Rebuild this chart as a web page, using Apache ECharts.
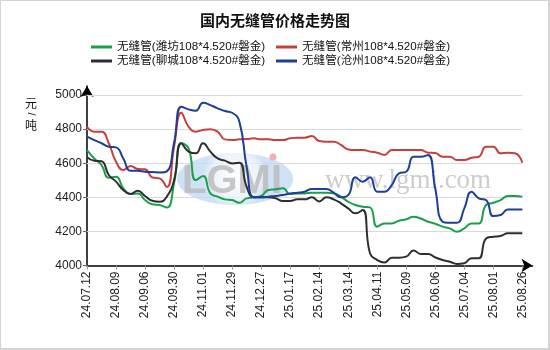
<!DOCTYPE html>
<html>
<head>
<meta charset="utf-8">
<script src="https://cdn.jsdelivr.net/npm/echarts@6/dist/echarts.min.js"></script>
<style>
  html, body { margin: 0; padding: 0; background: #fff; }
  #wrap { position: relative; width: 550px; height: 350px; }
  #chart { position: absolute; left: 0; top: 0; width: 550px; height: 350px; }
  #frame { position: absolute; left: 0; top: 0; width: 550px; height: 350px; box-sizing: border-box;
           border: 1px solid #d4d4d4; border-right-width: 2px; border-bottom-width: 2px; pointer-events: none; }
</style>
</head>
<body>
<div id="wrap"><div id="chart"></div><div id="frame"></div></div>
<script>
// Dates printed under the x axis; prices are sampled STEP times between two printed dates
const tickLabels = ['24.07.12','24.08.09','24.09.06','24.09.30','24.11.01','24.11.29','24.12.27','25.01.17',
                    '25.02.14','25.03.14','25.04.11','25.05.09','25.06.06','25.07.04','25.08.01','25.08.26'];
const STEP = 4;

const seriesNames = ['无缝管(潍坊108*4.520#磐金)', '无缝管(常州108*4.520#磐金)',
                     '无缝管(聊城108*4.520#磐金)', '无缝管(沧州108*4.520#磐金)'];

// 元/吨
const weifang = [4677,4628,4589,4515,4520,4453,4419,4423,4384,4359,4355,4340,4482,4717,4687,4501,
                 4525,4423,4404,4388,4384,4368,4394,4400,4408,4443,4447,4453,4419,4423,4423,4427,
                 4427,4427,4423,4404,4374,4355,4345,4341,4228,4247,4247,4263,4271,4286,4276,4257,
                 4245,4228,4218,4198,4218,4247,4247,4355,4368,4384,4408,4408,4404];
const changzhou = [4814,4785,4785,4717,4609,4560,4584,4566,4564,4517,4511,4460,4697,4896,4814,4785,
                   4795,4799,4785,4740,4736,4740,4742,4746,4740,4740,4736,4736,4746,4750,4750,4760,
                   4730,4726,4726,4707,4681,4678,4678,4668,4662,4648,4678,4678,4678,4678,4678,4662,
                   4660,4638,4638,4619,4619,4632,4638,4697,4697,4658,4662,4658,4603];
const liaocheng = [4635,4615,4612,4531,4492,4443,4419,4439,4408,4380,4374,4404,4501,4717,4668,4658,
                   4717,4668,4628,4615,4599,4603,4462,4400,4400,4400,4394,4378,4378,4388,4388,4400,
                   4376,4400,4388,4365,4335,4306,4326,4072,4032,4017,4046,4046,4052,4088,4068,4068,
                   4048,4032,4022,4009,4013,4043,4043,4159,4169,4173,4189,4189,4189];
const cangzhou = [4756,4736,4717,4697,4693,4628,4556,4556,4550,4548,4546,4552,4720,4932,4916,4908,
                  4955,4941,4922,4906,4896,4844,4580,4400,4400,4404,4408,4413,4423,4427,4433,4449,
                  4449,4449,4427,4400,4413,4517,4492,4517,4433,4433,4472,4541,4550,4638,4638,4648,
                  4450,4257,4251,4251,4335,4433,4394,4384,4290,4296,4329,4329,4329];

const yTicks = [4000, 4200, 4400, 4600, 4800, 5000];

const colors = ['#1c9f4c', '#c83e3c', '#2e2e2e', '#1d3f98'];
const values = [weifang, changzhou, liaocheng, cangzhou];

const FONT = '"Liberation Sans", "Noto Sans CJK SC", sans-serif';
const lastIdx = (tickLabels.length - 1) * STEP;
const tickPos = tickLabels.map((_, k) => k * STEP);

const chart = echarts.init(document.getElementById('chart'), null, { renderer: 'canvas' });

const lineSeries = seriesNames.map((name, s) => ({
  name: name,
  type: 'line',
  smooth: true,
  showSymbol: false,
  symbol: 'none',
  z: 3,
  color: colors[s],
  lineStyle: { width: 2, color: colors[s] },
  data: values[s].map((v, i) => [i, v])
}));

// horizontal guide lines run only across the dated span
lineSeries[0].markLine = {
  silent: true,
  z: 1,
  symbol: ['none', 'none'],
  label: { show: false },
  emphasis: { disabled: true },
  lineStyle: { color: '#d9d9d9', width: 1, type: 'solid' },
  data: yTicks.slice(1).map(v => [{ coord: [0, v] }, { coord: [lastIdx, v] }])
};

const option = {
  animation: false,
  backgroundColor: '#fff',
  title: {
    text: '国内无缝管价格走势图',
    left: 'center',
    top: 8,
    textStyle: { fontSize: 15, fontWeight: 'bold', color: '#111', fontFamily: '"Noto Sans CJK SC", sans-serif' }
  },
  legend: [0, 1].map(col => ({
    left: col === 0 ? 91 : 276,
    top: 41,
    orient: 'vertical',
    padding: 0,
    itemGap: 2,
    itemWidth: 21,
    itemHeight: 3,
    icon: 'rect',
    selectedMode: false,
    data: [seriesNames[col], seriesNames[col + 2]],
    textStyle: { fontSize: 11.6, lineHeight: 12, color: '#111', fontFamily: FONT }
  })),
  grid: { left: 87, right: 17.5, top: 86, bottom: 84.5, containLabel: false },
  xAxis: {
    type: 'value',
    min: 0,
    max: 61.4,
    interval: STEP,
    splitLine: { show: false },
    axisLine: { show: true, symbol: ['none', 'arrow'], symbolSize: [10, 11],
                lineStyle: { color: '#000', width: 1.5 } },
    axisTick: { show: true, customValues: tickPos, length: 4, lineStyle: { color: '#999' } },
    axisLabel: {
      customValues: tickPos,
      rotate: 90,
      margin: 6,
      fontSize: 12,
      color: '#222',
      fontFamily: FONT,
      formatter: v => (v % STEP === 0 && v <= lastIdx) ? tickLabels[v / STEP] : ''
    }
  },
  yAxis: {
    type: 'value',
    min: 4000,
    max: 5053,
    interval: 200,
    splitLine: { show: false },
    axisLine: { show: true, symbol: ['none', 'arrow'], symbolSize: [10, 11],
                lineStyle: { color: '#000', width: 1.5 } },
    axisTick: { show: true, customValues: yTicks, length: 4, lineStyle: { color: '#666' } },
    axisLabel: {
      customValues: yTicks,
      margin: 5,
      fontSize: 12,
      color: '#222',
      fontFamily: FONT,
      formatter: v => yTicks.indexOf(v) >= 0 ? String(v) : ''
    }
  },
  graphic: [
    // unit written top to bottom beside the value axis
    { type: 'text', z: 5, x: 31, y: 103, style: { text: '元', fill: '#111', align: 'center', verticalAlign: 'middle', font: '12px "Noto Sans CJK SC"' } },
    { type: 'text', z: 5, x: 31, y: 114, rotation: -Math.PI / 2, style: { text: '/', fill: '#111', align: 'center', verticalAlign: 'middle', font: '11px "Liberation Sans"' } },
    { type: 'text', z: 5, x: 31, y: 125, style: { text: '吨', fill: '#111', align: 'center', verticalAlign: 'middle', font: '12px "Noto Sans CJK SC"' } },
    // publisher watermark
    { type: 'ellipse', z: 2, silent: true, shape: { cx: 235, cy: 179, rx: 58, ry: 26 },
      style: { fill: new echarts.graphic.RadialGradient(0.5, 0.45, 0.62, [
        { offset: 0, color: 'rgba(255,255,255,0.85)' },
        { offset: 0.7, color: 'rgba(232,240,250,0.75)' },
        { offset: 1, color: 'rgba(196,218,242,0.8)' }]) } },
    { type: 'text', z: 2, silent: true, x: 232, y: 182,
      style: { text: 'LGMI', fill: 'rgba(185,185,185,0.8)', align: 'center', verticalAlign: 'middle',
               font: 'bold 40px "Liberation Sans"' } },
    { type: 'circle', z: 2, silent: true, shape: { cx: 273, cy: 157, r: 3.5 },
      style: { fill: 'rgba(240,160,170,0.85)' } },
    { type: 'text', z: 2, silent: true, x: 408, y: 181,
      style: { text: 'www.lgmi.com', fill: 'rgba(195,195,195,0.85)', align: 'center', verticalAlign: 'middle',
               font: '27px "Liberation Serif"' } }
  ],
  series: lineSeries
};

chart.setOption(option);
</script>
</body>
</html>
